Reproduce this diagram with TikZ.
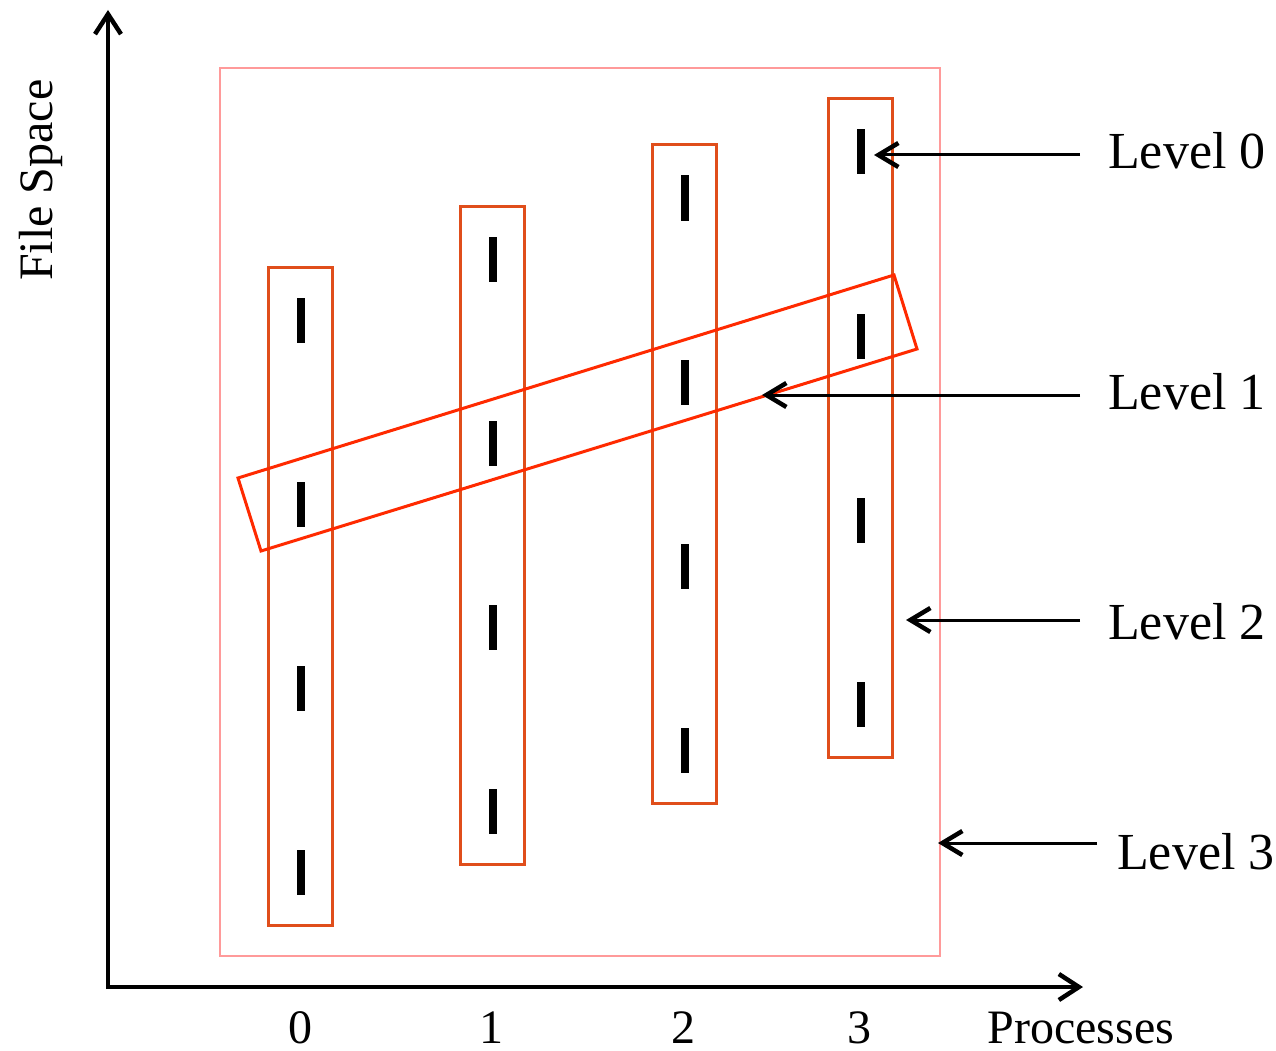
\documentclass[tikz,border=0pt]{standalone}
\usepackage{fontspec}
\setmainfont{Liberation Serif}
\usetikzlibrary{arrows.meta}
\definecolor{colbox}{HTML}{E04E1B}
\definecolor{lvlbox}{HTML}{FF2A00}
\definecolor{pinkbox}{HTML}{FF9A9A}
\begin{document}
\begin{tikzpicture}[x=1pt,y=-1pt,
  column/.style={draw=colbox,line width=3pt,minimum width=64pt,inner sep=0pt},
  fmark/.style={fill=black,minimum width=7.5pt,minimum height=45pt,inner sep=0pt},
  barb/.style={-{Straight Barb[length=20pt,width=24pt,line width=4.5pt]},line width=3pt},
  lvl/.style={font=\fontsize{52}{60}\selectfont,anchor=base west,inner sep=0pt},
  axlab/.style={font=\fontsize{48}{56}\selectfont,anchor=base,inner sep=0pt}]
\useasboundingbox (0,0) rectangle (1276,1051);
% axes
\coordinate (O) at (108,987);
\coordinate (Ytop) at (108,10);
\coordinate (Xend) at (1083,987);
\draw[line width=3.5pt,-{Straight Barb[length=20pt,width=26pt,line width=4.5pt]}] (108,989) -- (Ytop);
\draw[line width=3.5pt,-{Straight Barb[length=20pt,width=26pt,line width=4.5pt]}] (106,987) -- (Xend);
% level 3 box
\node[draw=pinkbox,line width=2.5pt,minimum width=720pt,minimum height=888pt,inner sep=0pt] (L3) at (580,512) {};
% columns
\foreach \i/\x/\t in {0/300/267,1/492/206,2/684/145,3/860/99}{
  \node[column,minimum height=658pt] (c\i) at (\x,\t+329) {};
  \foreach \k in {0,1,2,3}{
    \node[fmark] (m\i\k) at (\x+1,\t+53+184*\k) {};
  }
}
% level 1 slanted box
\draw[lvlbox,line width=3pt,line join=miter] (238,478) coordinate (s1) -- (894,275) coordinate (s2) -- (917,349) coordinate (s3) -- (261,551) coordinate (s4) -- cycle;
% labels
\node[lvl] (t0) at (1108,169) {Level 0};
\node[lvl] (t1) at (1108,409) {Level 1};
\node[lvl] (t2) at (1108,639) {Level 2};
\node[lvl] (t3) at (1117,869) {Level 3};
\coordinate (a0) at (1080,155); \coordinate (e0) at (874,155);
\coordinate (a1) at (1080,395); \coordinate (e1) at (762,395);
\coordinate (a2) at (1080,620); \coordinate (e2) at (906,620);
\coordinate (a3) at (1097,843); \coordinate (e3) at (938,843);
\foreach \j in {0,1,2,3}{\draw[barb] (a\j) -- (e\j);}
% axis labels
\node[axlab] (p0) at (300,1043) {0};
\node[axlab] (p1) at (491,1043) {1};
\node[axlab] (p2) at (683,1043) {2};
\node[axlab] (p3) at (859,1043) {3};
\node[axlab] (pl) at (1081,1043) {Processes};
\node[axlab,anchor=base west,rotate=90] (fs) at (52,281) {File Space};
\end{tikzpicture}
\end{document}
